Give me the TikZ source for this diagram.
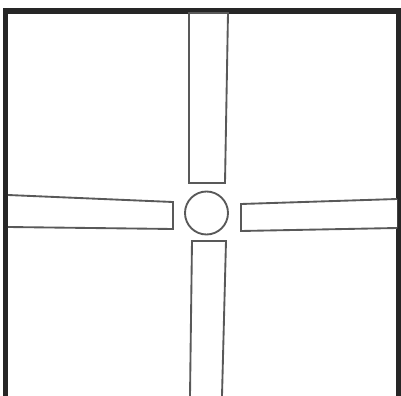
\documentclass[tikz,border=0pt]{standalone}
\usepackage{tikz}

\tikzset{
  wall/.style={draw=black!85, line width=4pt},
  blade/.style={draw=black!65, line width=1.4pt, fill=white, line join=miter},
  hub/.style={draw=black!65, line width=1.4pt, fill=white}
}

\begin{document}
\begin{tikzpicture}[x=0.75pt, y=-0.75pt]
\useasboundingbox (0,0) rectangle (401,396);
% frame
\draw[wall] (5.5,396) -- (5.5,11) -- (399,11) -- (399,396);
% blades
\draw[blade] (189,13) -- (228,13) -- (225,183) -- (189,183) -- cycle;
\draw[blade] (190,396) -- (192,241) -- (226,241) -- (222,396);
\draw[blade] (8,195) -- (173,202) -- (173,229) -- (8,227);
\draw[blade] (397,199) -- (241,204) -- (241,231) -- (397,228);
% hub
\draw[hub] (206.5,213) circle (21.5);
\end{tikzpicture}
\end{document}
